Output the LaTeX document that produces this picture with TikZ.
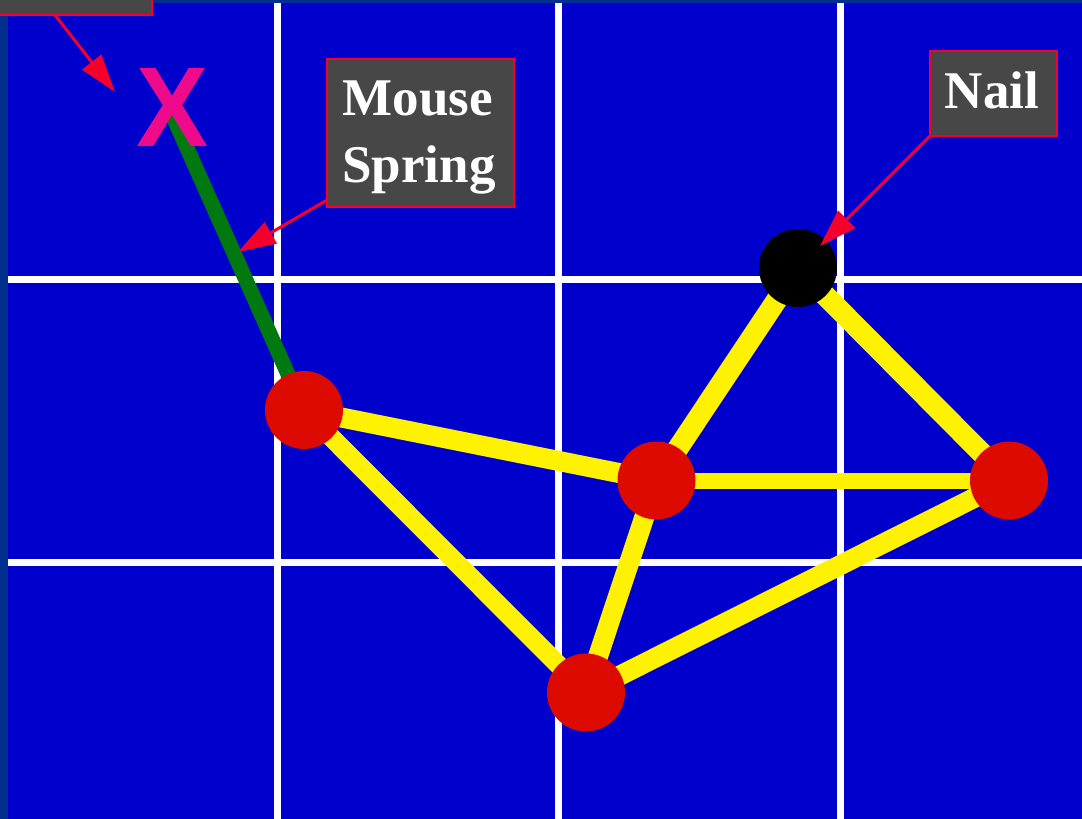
\documentclass[tikz,border=0pt]{standalone}
\usepackage{fontspec}
\setmainfont{Liberation Serif}
\newfontfamily\xfont{Liberation Sans}
\usetikzlibrary{arrows.meta}
\definecolor{bgblue}{HTML}{0000CC}
\definecolor{edgenavy}{HTML}{002F8F}
\definecolor{springyellow}{HTML}{FFF200}
\definecolor{massred}{HTML}{DD0A00}
\definecolor{mousegreen}{HTML}{007A10}
\definecolor{xpink}{HTML}{EE0A8A}
\definecolor{arrowred}{HTML}{F5002C}
\definecolor{boxgray}{HTML}{474747}
\tikzset{
  gridline/.style={draw=white, line width=7pt},
  spring/.style={draw=springyellow, line width=20pt},
  mass/.style={circle, fill=massred, minimum size=78pt, inner sep=0pt},
  nailnode/.style={circle, fill=black, minimum size=78pt, inner sep=0pt},
  labelbox/.style={draw=arrowred, fill=boxgray, line width=2.5pt, inner sep=0pt},
  labeltext/.style={text=white, font=\fontsize{53}{60}\selectfont\bfseries, inner sep=0pt, anchor=base},
  pointer/.style={draw=arrowred, line width=3pt, -{Triangle[length=38pt,width=24pt]}},
}
\begin{document}
\begin{tikzpicture}[x=1pt,y=-1pt]
\useasboundingbox (0,0) rectangle (1082,819);
\clip (0,0) rectangle (1082,819);
\fill[edgenavy] (0,0) rectangle (1082,819);
\fill[bgblue] (8,3) rectangle (1082,819);
\foreach \x in {277,558,840} \draw[gridline] (\x,3) -- (\x,819);
\foreach \y in {279.5,562} \draw[gridline] (8,\y) -- (1082,\y);
% mass positions
\coordinate (a) at (304,410);
\coordinate (b) at (656.5,480.5);
\coordinate (d) at (586,692.5);
\coordinate (e) at (1009,480.5);
\coordinate (nailpos) at (798,268);
\coordinate (mouse) at (170,110);
% springs
\draw[draw=mousegreen, line width=15pt] (mouse) -- (a);
\draw[spring] (a) -- (b);
\draw[spring, line width=19pt] (a) -- (d);
\draw[spring] (d) -- (b);
\draw[spring] (d) -- (e);
\draw[spring, line width=16pt] (b) -- (e);
\draw[spring, line width=21pt] (b) -- (nailpos);
\draw[spring, line width=21pt] (nailpos) -- (e);
% masses on top
\node[mass] (ma) at (a) {};
\node[mass] (mb) at (b) {};
\node[mass] (md) at (d) {};
\node[mass] (me) at (e) {};
\node[nailnode] (nail) at (nailpos) {};
% mouse cursor X
\node[text=xpink, font=\xfont\fontsize{108}{108}\selectfont\bfseries, inner sep=0pt, anchor=base, yscale=1.05] (xmark) at (172.5,146) {X};
% label boxes
\node[labelbox, minimum width=187pt, minimum height=148pt] (msbox) at (420.5,133) {};
\node[labeltext] (mstext1) at (418,115) {Mouse};
\node[labeltext] (mstext2) at (419,182) {Spring};
\node[labelbox, minimum width=127pt, minimum height=85pt] (nailbox) at (993.5,93.5) {};
\node[labeltext] (nailtext) at (992,108) {Nail};
\node[labelbox, minimum width=220pt, minimum height=100pt] (mousebox) at (42,-35) {};
% pointers
\coordinate (msfrom) at (327,200);
\coordinate (msto) at (238,252);
\coordinate (nailfrom) at (930,136);
\coordinate (nailto) at (820,246);
\coordinate (mousefrom) at (55,15);
\coordinate (mouseto) at (115,92);
\draw[pointer] (msfrom) -- (msto);
\draw[pointer] (nailfrom) -- (nailto);
\draw[pointer] (mousefrom) -- (mouseto);
\end{tikzpicture}
\end{document}
